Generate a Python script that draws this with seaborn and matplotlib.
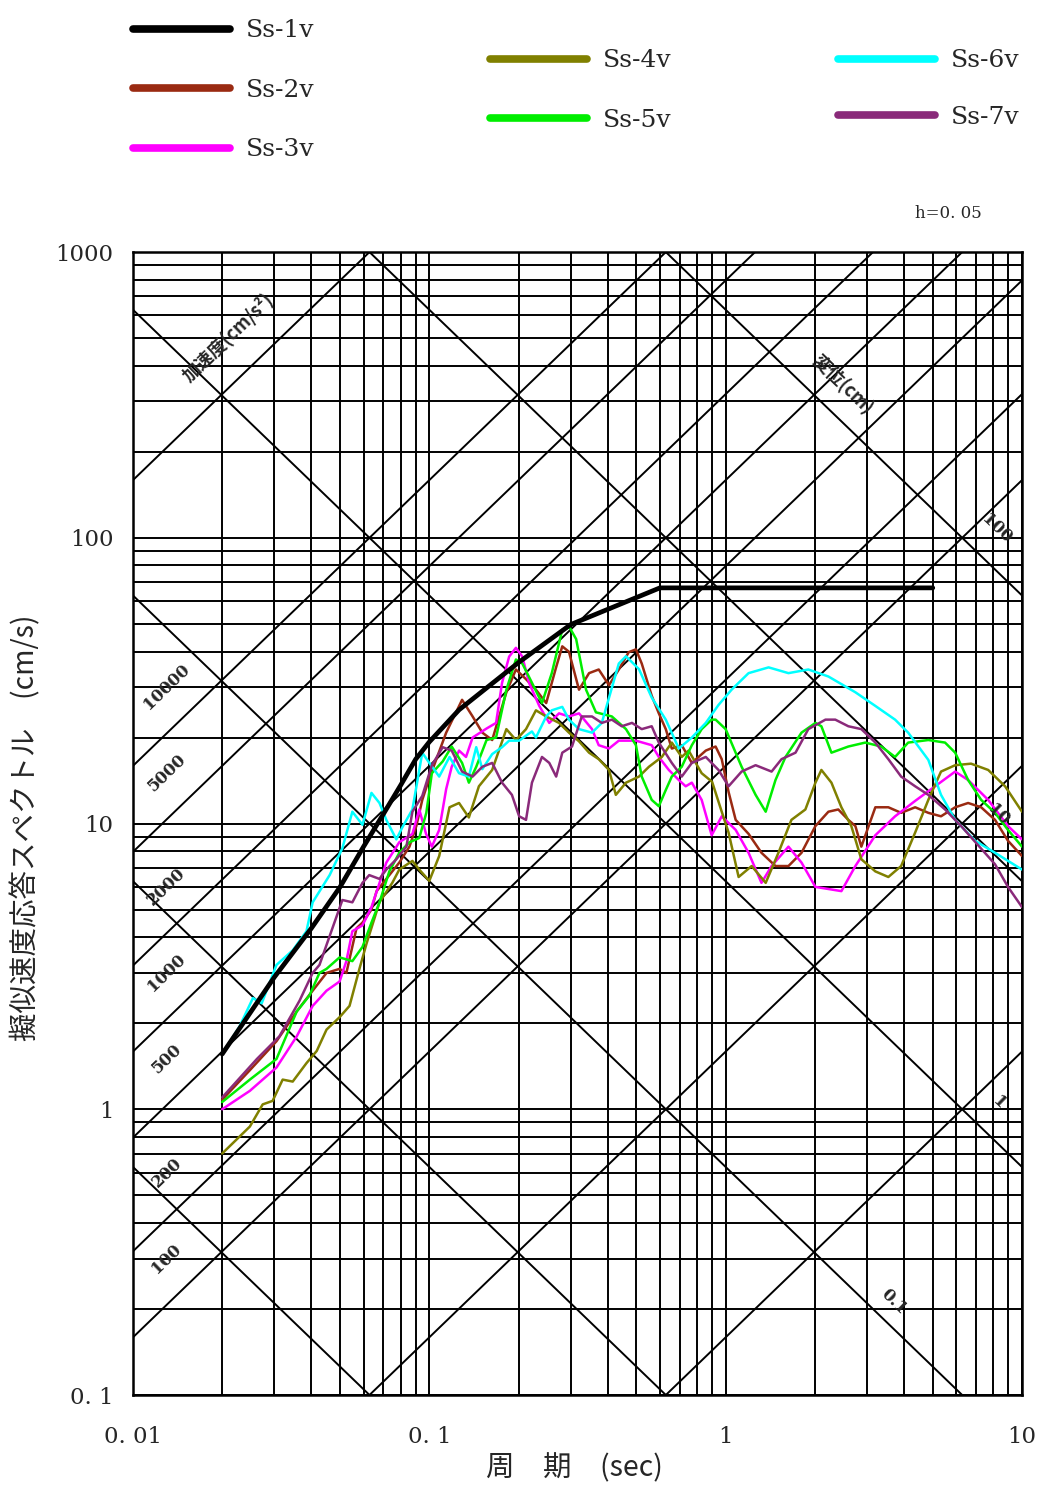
import numpy as np
import pandas as pd
import matplotlib
matplotlib.use("Agg")
import matplotlib.pyplot as plt
from matplotlib.lines import Line2D
from matplotlib.ticker import LogLocator, NullFormatter
import seaborn as sns

sns.set_theme(style="white")
plt.rcParams["font.family"] = ["DejaVu Serif", "Noto Sans CJK JP"]
plt.rcParams["axes.unicode_minus"] = False

# (period [s], pseudo-velocity [cm/s]) for each vertical wave, h = 0.05
ss1 = [(0.02, 1.56), (0.03, 2.9), (0.04, 4.3), (0.05, 6.0), (0.06, 8.3), (0.07, 10.8),
       (0.08, 13.6), (0.09, 16.8), (0.1, 19.3), (0.126, 25.0), (0.2, 36.6), (0.3, 49.7),
       (0.6, 66.8), (5.0, 66.8)]

ss2 = [(0.02, 1.08), (0.0248, 1.37), (0.0305, 1.73), (0.0357, 2.2), (0.0404, 2.6), (0.045, 3.0),
       (0.0498, 3.1), (0.0525, 3.0), (0.0568, 4.3), (0.0595, 4.5), (0.0638, 5.0), (0.0664, 5.8),
       (0.0733, 6.6), (0.0792, 7.3), (0.0857, 8.3), (0.0904, 9.8), (0.0947, 12.1), (0.1, 14.4),
       (0.114, 20.8), (0.129, 27.1), (0.14, 23.7), (0.151, 20.8), (0.163, 19.6), (0.182, 28.8),
       (0.196, 34.6), (0.212, 32.0), (0.229, 29.4), (0.248, 26.4), (0.268, 35.3), (0.281, 41.7),
       (0.296, 39.9), (0.32, 29.4), (0.346, 33.6), (0.373, 34.6), (0.404, 30.5), (0.436, 34.6),
       (0.471, 39.8), (0.498, 40.7), (0.521, 36.3), (0.563, 28.0), (0.595, 24.3), (0.628, 21.4),
       (0.658, 18.3), (0.711, 18.8), (0.769, 16.3), (0.857, 18.0), (0.925, 18.6), (0.97, 16.8),
       (1.023, 12.9), (1.081, 10.3), (1.195, 9.2), (1.321, 7.9), (1.473, 7.1), (1.629, 7.1),
       (1.803, 7.9), (2.009, 9.8), (2.222, 11.0), (2.399, 11.2), (2.594, 10.3), (2.74, 9.8),
       (2.87, 8.3), (3.2, 11.4), (3.54, 11.4), (3.91, 10.9), (4.36, 11.4), (4.83, 10.9),
       (5.33, 10.6), (5.95, 11.4), (6.58, 11.8), (7.28, 11.4), (8.11, 10.3), (8.97, 8.7), (10.0, 7.7)]

ss3 = [(0.02, 1.0), (0.0248, 1.16), (0.0305, 1.4), (0.0357, 1.8), (0.0404, 2.3), (0.045, 2.6),
       (0.0498, 2.8), (0.0525, 3.3), (0.055, 4.2), (0.0595, 4.4), (0.0638, 5.1), (0.0716, 7.3),
       (0.0792, 8.6), (0.0877, 9.2), (0.0925, 11.2), (0.0975, 9.2), (0.102, 8.3), (0.108, 9.5),
       (0.114, 13.2), (0.119, 15.8), (0.126, 18.0), (0.133, 17.1), (0.14, 20.0), (0.156, 21.5),
       (0.168, 22.5), (0.176, 31.1), (0.186, 38.4), (0.196, 41.2), (0.206, 38.4), (0.217, 31.1),
       (0.235, 25.8), (0.254, 22.5), (0.274, 24.3), (0.296, 23.7), (0.32, 24.3), (0.354, 21.4),
       (0.373, 18.8), (0.404, 18.3), (0.436, 19.5), (0.498, 19.5), (0.563, 18.8), (0.595, 17.1),
       (0.643, 15.4), (0.695, 14.2), (0.733, 13.5), (0.769, 13.9), (0.83, 12.1), (0.897, 9.1),
       (0.97, 10.6), (1.081, 9.5), (1.195, 7.9), (1.321, 6.2), (1.429, 7.1), (1.629, 8.3),
       (1.803, 7.3), (2.009, 6.0), (2.222, 5.9), (2.458, 5.8), (2.74, 7.1), (3.2, 9.1),
       (3.73, 10.6), (4.36, 12.0), (5.09, 13.5), (5.95, 15.2), (6.58, 14.2), (7.69, 12.1),
       (8.97, 9.8), (10.0, 8.8)]

ss4 = [(0.02, 0.7), (0.0248, 0.87), (0.0274, 1.04), (0.0296, 1.07), (0.032, 1.27), (0.0346, 1.25),
       (0.0385, 1.45), (0.0417, 1.6), (0.045, 1.9), (0.0498, 2.1), (0.0538, 2.3), (0.0581, 3.1),
       (0.0614, 3.8), (0.0679, 5.3), (0.075, 6.2), (0.0792, 6.9), (0.0877, 7.4), (0.0925, 6.9),
       (0.1, 6.3), (0.108, 7.7), (0.117, 11.4), (0.126, 11.8), (0.136, 10.5), (0.147, 13.5),
       (0.163, 15.4), (0.182, 21.4), (0.196, 19.6), (0.212, 21.4), (0.229, 24.9), (0.248, 23.7),
       (0.274, 22.5), (0.296, 20.8), (0.32, 19.4), (0.346, 17.7), (0.373, 16.8), (0.404, 15.4),
       (0.426, 12.6), (0.461, 13.9), (0.51, 14.6), (0.551, 15.8), (0.609, 17.1), (0.658, 19.2),
       (0.711, 17.1), (0.75, 18.0), (0.83, 15.0), (0.9, 14.0), (0.97, 11.0), (1.023, 9.3),
       (1.106, 6.5), (1.224, 7.1), (1.365, 6.2), (1.507, 7.9), (1.667, 10.3), (1.858, 11.2),
       (2.009, 13.9), (2.104, 15.4), (2.275, 13.9), (2.458, 11.4), (2.655, 9.8), (2.87, 7.5),
       (3.2, 6.8), (3.54, 6.5), (3.91, 7.1), (4.36, 9.3), (4.83, 12.1), (5.33, 15.2), (5.95, 16.0),
       (6.73, 16.2), (7.69, 15.4), (8.77, 13.5), (10.0, 11.0)]

ss5 = [(0.02, 1.06), (0.0248, 1.27), (0.0305, 1.5), (0.0357, 2.2), (0.0394, 2.5), (0.0426, 3.0),
       (0.045, 3.1), (0.0498, 3.4), (0.055, 3.3), (0.0595, 3.7), (0.0638, 4.5), (0.0679, 5.3),
       (0.0733, 6.8), (0.0792, 7.9), (0.0857, 8.6), (0.0925, 8.9), (0.0977, 10.9), (0.102, 15.0),
       (0.111, 16.5), (0.119, 18.6), (0.129, 16.3), (0.136, 13.9), (0.144, 15.8), (0.156, 19.6),
       (0.168, 20.0), (0.182, 29.4), (0.196, 37.5), (0.206, 36.3), (0.222, 31.1), (0.24, 26.4),
       (0.259, 33.6), (0.281, 47.7), (0.296, 49.0), (0.313, 44.2), (0.338, 29.4), (0.365, 24.5),
       (0.413, 23.7), (0.461, 21.4), (0.498, 18.8), (0.521, 14.6), (0.563, 12.1), (0.595, 11.5),
       (0.628, 13.1), (0.658, 14.6), (0.711, 15.8), (0.769, 18.8), (0.83, 21.4), (0.897, 23.1),
       (0.925, 23.1), (1.0, 21.4), (1.132, 15.8), (1.262, 12.6), (1.365, 11.0), (1.473, 14.2),
       (1.592, 17.1), (1.803, 20.8), (2.009, 22.5), (2.104, 21.9), (2.275, 17.7), (2.594, 18.6),
       (2.958, 19.2), (3.35, 18.6), (3.73, 17.1), (4.13, 19.2), (4.83, 19.6), (5.5, 19.2),
       (5.95, 17.7), (6.58, 14.2), (7.28, 12.1), (8.11, 10.9), (8.97, 9.5), (10.0, 8.3)]

ss6 = [(0.02, 1.56), (0.0229, 1.95), (0.0254, 2.45), (0.0272, 2.35), (0.0305, 3.2), (0.0346, 3.6),
       (0.0385, 4.2), (0.0404, 5.3), (0.0461, 6.6), (0.0509, 8.2), (0.055, 11.0), (0.0595, 9.9),
       (0.0638, 12.8), (0.0679, 11.8), (0.0716, 10.3), (0.0774, 8.8), (0.0811, 9.7), (0.0877, 11.2),
       (0.0947, 17.7), (0.1, 16.3), (0.108, 14.6), (0.117, 17.1), (0.126, 15.0), (0.136, 14.6),
       (0.144, 18.5), (0.151, 15.5), (0.163, 17.5), (0.176, 18.5), (0.186, 19.5), (0.201, 19.5),
       (0.222, 21.0), (0.229, 20.0), (0.248, 23.7), (0.259, 24.9), (0.281, 25.6), (0.296, 23.1),
       (0.32, 21.4), (0.354, 20.8), (0.382, 22.5), (0.436, 36.3), (0.461, 38.5), (0.51, 34.7),
       (0.563, 27.6), (0.628, 23.1), (0.695, 18.3), (0.769, 20.0), (0.857, 22.5), (0.946, 26.0),
       (1.047, 29.4), (1.195, 33.6), (1.396, 35.2), (1.629, 33.6), (1.901, 34.6), (2.222, 32.7),
       (2.74, 28.8), (3.2, 25.8), (3.73, 23.1), (4.13, 20.8), (4.83, 16.7), (5.33, 12.6),
       (5.95, 10.3), (6.95, 8.7), (8.11, 7.9), (10.0, 6.9)]

ss7 = [(0.02, 1.1), (0.0262, 1.5), (0.0312, 1.8), (0.0365, 2.4), (0.0404, 3.0), (0.0426, 3.2),
       (0.0471, 4.3), (0.0509, 5.4), (0.055, 5.3), (0.0595, 6.2), (0.0627, 6.6), (0.0679, 6.4),
       (0.0716, 6.9), (0.0774, 7.5), (0.0837, 8.3), (0.0877, 11.0), (0.0947, 12.5), (0.102, 16.0),
       (0.111, 18.5), (0.119, 18.0), (0.129, 15.2), (0.14, 14.6), (0.151, 15.8), (0.163, 16.3),
       (0.176, 13.9), (0.19, 12.6), (0.201, 10.6), (0.212, 10.3), (0.222, 13.9), (0.24, 17.1),
       (0.254, 16.3), (0.268, 14.6), (0.281, 17.7), (0.303, 18.6), (0.327, 23.7), (0.354, 23.7),
       (0.382, 22.5), (0.413, 23.1), (0.446, 21.9), (0.483, 22.5), (0.521, 21.4), (0.563, 21.9),
       (0.595, 19.2), (0.658, 16.3), (0.711, 14.6), (0.769, 16.3), (0.857, 17.1), (0.946, 15.4),
       (1.023, 13.5), (1.132, 15.2), (1.262, 16.0), (1.429, 15.2), (1.544, 16.8), (1.721, 17.7),
       (1.901, 21.4), (2.172, 23.1), (2.344, 23.1), (2.594, 21.9), (2.87, 21.4), (3.2, 19.2),
       (3.54, 16.8), (3.91, 14.6), (4.36, 13.5), (4.83, 12.6), (5.5, 11.2), (6.23, 9.8),
       (7.11, 8.4), (8.11, 7.2), (8.97, 6.0), (10.0, 5.1)]

wave_names = ["Ss-1v", "Ss-2v", "Ss-3v", "Ss-4v", "Ss-5v", "Ss-6v", "Ss-7v"]
wave_data = [ss1, ss2, ss3, ss4, ss5, ss6, ss7]
wave_colors = ["#000000", "#9a2a12", "#ff00ff", "#808000", "#00ee00", "#00ffff", "#8a2a7a"]

# guide lines of the tripartite chart
accel_levels = [1, 10, 100, 200, 500, 1000, 2000, 5000, 10000, 100000]      # cm/s^2
disp_levels = [0.001, 0.01, 0.1, 1, 10, 100]                                # cm
accel_labels = ["10000", "5000", "2000", "1000", "500", "200", "100"]
disp_labels = [("100", 8.2, 1.40), ("10", 8.3, 1.42), ("1", 8.4, 1.41), ("0.1", 3.68, 1.24)]

x_ticks = [0.01, 0.1, 1, 10]
x_ticklabels = ["0. 01", "0. 1", "1", "10"]
y_ticks = [0.1, 1, 10, 100, 1000]
y_ticklabels = ["0. 1", "1", "10", "100", "1000"]

df = pd.concat(
    [pd.DataFrame({"period": [p for p, _ in d], "sv": [v for _, v in d], "wave": n})
     for n, d in zip(wave_names, wave_data)],
    ignore_index=True,
)
palette = dict(zip(wave_names, wave_colors))

fig = plt.figure(figsize=(10.42, 14.88), dpi=100)
ax = fig.add_axes([0.1276, 0.0625, 0.8532, 0.7681])
ax.set_xscale("log")
ax.set_yscale("log")
ax.set_xlim(0.01, 10)
ax.set_ylim(0.1, 1000)

# logarithmic grid
for axis in (ax.xaxis, ax.yaxis):
    axis.set_major_locator(LogLocator(base=10, subs=(1.0,)))
    axis.set_minor_locator(LogLocator(base=10, subs=np.arange(2, 10)))
    axis.set_minor_formatter(NullFormatter())
ax.grid(True, which="both", color="black", lw=1.4)
ax.set_axisbelow(True)

# constant acceleration / displacement lines
t_edge = np.array([0.01, 10.0])
for a in accel_levels:
    ax.plot(t_edge, a * t_edge / (2 * np.pi), color="black", lw=1.4, zorder=1.5)
for d in disp_levels:
    ax.plot(t_edge, 2 * np.pi * d / t_edge, color="black", lw=1.4, zorder=1.5)

# spectra
others = df[df["wave"] != "Ss-1v"]
sns.lineplot(data=others, x="period", y="sv", hue="wave", palette=palette,
             sort=False, estimator=None, lw=1.8, legend=False, ax=ax, zorder=3)
sns.lineplot(data=df[df["wave"] == "Ss-1v"], x="period", y="sv", color="black",
             sort=False, estimator=None, lw=3.4, legend=False, ax=ax, zorder=4)

ax.set_xticks(x_ticks)
ax.set_xticklabels(x_ticklabels)
ax.set_yticks(y_ticks)
ax.set_yticklabels(y_ticklabels)
ax.tick_params(axis="both", which="both", length=0, labelsize=16.5)
ax.tick_params(axis="x", pad=22)
ax.tick_params(axis="y", pad=14)
for s in ax.spines.values():
    s.set_color("black")
    s.set_linewidth(1.8)

# labels on the guide lines
t_lab = 0.013
for txt in accel_labels:
    a = float(txt)
    ax.text(t_lab, a * t_lab / (2 * np.pi) * 1.45, txt, rotation=44, rotation_mode="anchor",
            ha="center", va="center", fontsize=12, fontweight="bold", zorder=5)
for txt, t, f in disp_labels:
    d = float(txt)
    ax.text(t, 2 * np.pi * d / t * f, txt, rotation=-44, rotation_mode="anchor",
            ha="center", va="center", fontsize=12, fontweight="bold", zorder=5)
ax.text(0.0209, 500, "加速度(cm/s²)", rotation=44, rotation_mode="anchor", ha="center",
        va="center", fontsize=13, fontweight="bold",
        family=["Noto Sans CJK JP", "DejaVu Sans"], zorder=5)
ax.text(2.49, 343, "変位(cm)", rotation=-44, rotation_mode="anchor", ha="center",
        va="center", fontsize=13, fontweight="bold",
        family=["Noto Sans CJK JP", "DejaVu Sans"], zorder=5)
ax.text(0.917, 1.034, "h=0. 05", transform=ax.transAxes, ha="center", va="center",
        fontsize=12)

ax.set_xlabel("周　期　(sec)", fontsize=20.5, family=["Noto Sans CJK JP", "DejaVu Sans"])
ax.set_ylabel("擬似速度応答スペクトル　(cm/s)", fontsize=20.5,
              family=["Noto Sans CJK JP", "DejaVu Sans"])
ax.xaxis.set_label_coords(0.497, -0.051)
ax.yaxis.set_label_coords(-0.103, 0.496)

# legend in three groups above the chart
handles = [Line2D([0], [0], color=c, lw=5.5) for c in wave_colors]
groups = [((0, 1, 2), 0.1276, 0.9869, 1.46), ((3, 4), 0.4702, 0.9668, 1.46),
          ((5, 6), 0.8042, 0.9668, 1.34)]
for idx, x0, y0, sp in groups:
    fig.legend([handles[i] for i in idx], [wave_names[i] for i in idx],
               loc="upper left", bbox_to_anchor=(x0, y0), frameon=False,
               fontsize=18, handlelength=3.9, handletextpad=0.6,
               labelspacing=sp, borderpad=0, borderaxespad=0)

fig.savefig("out.png", dpi=100, facecolor="white")
